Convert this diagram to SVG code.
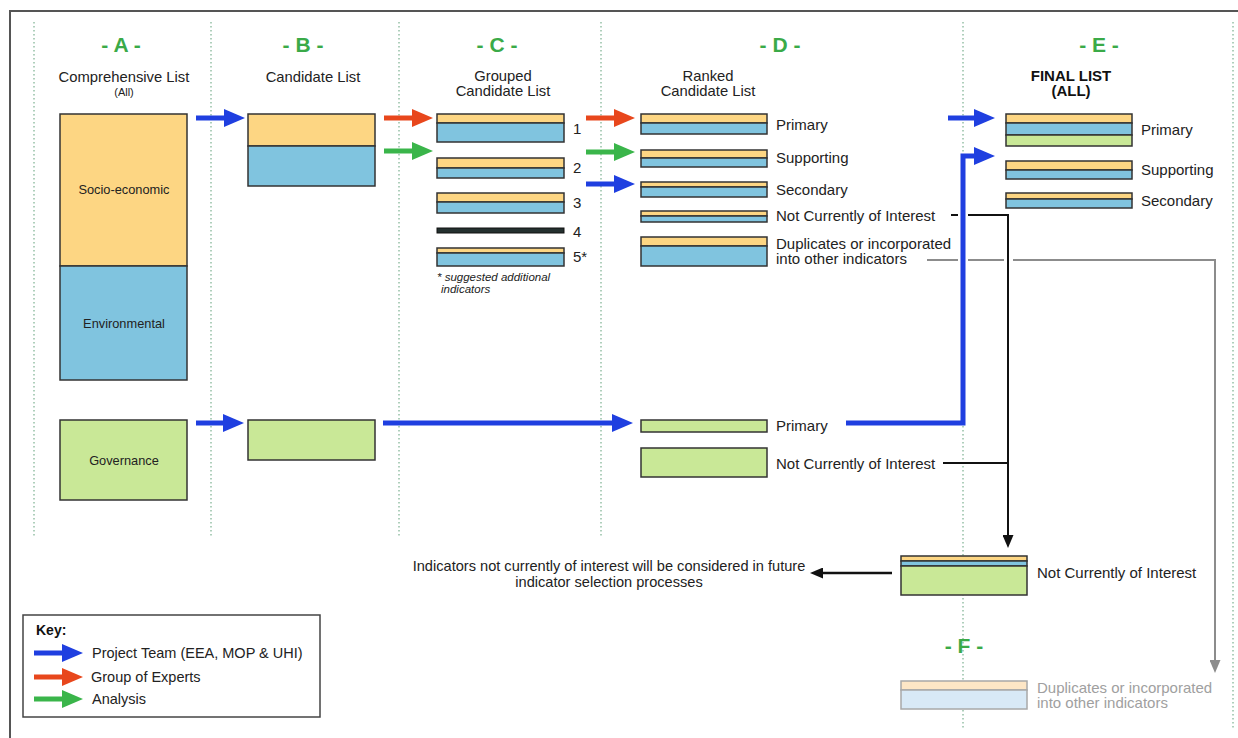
<svg xmlns="http://www.w3.org/2000/svg" width="1238" height="738" viewBox="0 0 1238 738">
<style>
text{font-family:"Liberation Sans",Arial,sans-serif;fill:#222}
.sec{font-size:21px;font-weight:bold;fill:#3aaa48;text-anchor:middle}
.hdr{font-size:14.8px;text-anchor:middle}
.lbl{font-size:15px}
.in{font-size:12.8px;text-anchor:middle}
.y{fill:#fdd683;stroke:#333;stroke-width:1.5}
.b{fill:#80c4df;stroke:#333;stroke-width:1.5}
.g{fill:#c9e897;stroke:#333;stroke-width:1.5}
.fy{fill:#fde6c6;stroke:#a8a8a8;stroke-width:1.5}
.fb{fill:#d8e9f6;stroke:#a8a8a8;stroke-width:1.5}
.dot{stroke:#5f9f78;stroke-width:1;stroke-dasharray:1.5 2.5;fill:none}
.ab{stroke:#1f3fe0;stroke-width:5;fill:none;marker-end:url(#mb)}
.ar{stroke:#e8471c;stroke-width:5;fill:none;marker-end:url(#mr)}
.ag{stroke:#3ab54a;stroke-width:5;fill:none;marker-end:url(#mg)}
.bk{stroke:#111;stroke-width:2;fill:none}
.gr{stroke:#8c8c8c;stroke-width:2;fill:none}
</style>
<defs>
<marker id="mb" markerUnits="userSpaceOnUse" viewBox="0 0 21 18" refX="6" refY="9" markerWidth="21" markerHeight="18" orient="auto"><path d="M0,0 L21,9 L0,18 z" fill="#1f3fe0"/></marker>
<marker id="mr" markerUnits="userSpaceOnUse" viewBox="0 0 21 18" refX="6" refY="9" markerWidth="21" markerHeight="18" orient="auto"><path d="M0,0 L21,9 L0,18 z" fill="#e8471c"/></marker>
<marker id="mg" markerUnits="userSpaceOnUse" viewBox="0 0 21 18" refX="6" refY="9" markerWidth="21" markerHeight="18" orient="auto"><path d="M0,0 L21,9 L0,18 z" fill="#3ab54a"/></marker>
<marker id="mk" markerUnits="userSpaceOnUse" viewBox="0 0 13 11" refX="5" refY="5.5" markerWidth="13" markerHeight="11" orient="auto"><path d="M0,0 L13,5.5 L0,11 z" fill="#111"/></marker>
<marker id="mgr" markerUnits="userSpaceOnUse" viewBox="0 0 13 11" refX="5" refY="5.5" markerWidth="13" markerHeight="11" orient="auto"><path d="M0,0 L13,5.5 L0,11 z" fill="#8c8c8c"/></marker>
</defs>
<rect x="0" y="0" width="1238" height="738" fill="#fff"/>
<rect x="10" y="11" width="1240" height="740" fill="none" stroke="#555" stroke-width="2"/>
<g id="columns">
<line class="dot" x1="34" y1="22" x2="34" y2="537"/>
<line class="dot" x1="211" y1="22" x2="211" y2="537"/>
<line class="dot" x1="399" y1="22" x2="399" y2="537"/>
<line class="dot" x1="601" y1="22" x2="601" y2="537"/>
<line class="dot" x1="963" y1="22" x2="963" y2="728"/>
<line class="dot" x1="1233" y1="22" x2="1233" y2="730"/>
<text class="sec" x="121" y="52">- A -</text>
<text class="sec" x="303" y="52">- B -</text>
<text class="sec" x="497" y="52">- C -</text>
<text class="sec" x="780" y="52">- D -</text>
<text class="sec" x="1099" y="52">- E -</text>
<text class="sec" x="964" y="653">- F -</text>
<text class="hdr" x="124" y="82">Comprehensive List</text>
<text class="hdr" x="124" y="96" style="font-size:11px">(All)</text>
<text class="hdr" x="313" y="82">Candidate List</text>
<text class="hdr" x="503" y="81">Grouped</text>
<text class="hdr" x="503" y="96">Candidate List</text>
<text class="hdr" x="708" y="81">Ranked</text>
<text class="hdr" x="708" y="96">Candidate List</text>
<text class="hdr" x="1071" y="81" style="font-weight:bold;font-size:15px;fill:#111">FINAL LIST</text>
<text class="hdr" x="1071" y="96" style="font-weight:bold;font-size:15px;fill:#111">(ALL)</text>
</g>
<g id="node-a">
<rect class="y" x="60" y="114" width="127" height="152"/>
<rect class="b" x="60" y="266" width="127" height="114"/>
<text class="in" x="124" y="194">Socio-economic</text>
<text class="in" x="124" y="328">Environmental</text>
</g>
<g id="node-a-gov">
<rect class="g" x="60" y="420" width="127" height="80"/>
<text class="in" x="124" y="465">Governance</text>
</g>
<g id="node-b">
<rect class="y" x="248" y="114" width="127" height="32"/>
<rect class="b" x="248" y="146" width="127" height="40"/>
</g>
<g id="node-b-gov">
<rect class="g" x="248" y="420" width="127" height="40"/>
</g>
<g id="node-c1"><rect class="y" x="437" y="114" width="127" height="9"/><rect class="b" x="437" y="123" width="127" height="19"/><text class="lbl" x="573" y="134">1</text></g>
<g id="node-c2"><rect class="y" x="437" y="158" width="127" height="10"/><rect class="b" x="437" y="168" width="127" height="10"/><text class="lbl" x="573" y="173">2</text></g>
<g id="node-c3"><rect class="y" x="437" y="193" width="127" height="9"/><rect class="b" x="437" y="202" width="127" height="11"/><text class="lbl" x="573" y="208">3</text></g>
<g id="node-c4"><rect x="437" y="228" width="127" height="5" fill="#24302f" stroke="#111" stroke-width="1"/><text class="lbl" x="573" y="237">4</text></g>
<g id="node-c5"><rect class="y" x="437" y="248" width="127" height="5"/><rect class="b" x="437" y="253" width="127" height="13"/><text class="lbl" x="573" y="262">5*</text>
<text x="437" y="281" style="font-size:11.5px;font-style:italic">* suggested additional</text>
<text x="441" y="293" style="font-size:11.5px;font-style:italic">indicators</text></g>
<g id="node-d-primary"><rect class="y" x="641" y="114" width="126" height="9"/><rect class="b" x="641" y="123" width="126" height="11"/><text class="lbl" x="776" y="130">Primary</text></g>
<g id="node-d-supporting"><rect class="y" x="641" y="150" width="126" height="8"/><rect class="b" x="641" y="158" width="126" height="9"/><text class="lbl" x="776" y="163">Supporting</text></g>
<g id="node-d-secondary"><rect class="y" x="641" y="182" width="126" height="5"/><rect class="b" x="641" y="187" width="126" height="10"/><text class="lbl" x="776" y="195">Secondary</text></g>
<g id="node-d-notcurrent"><rect class="y" x="641" y="211" width="126" height="5"/><rect class="b" x="641" y="216" width="126" height="6"/><text class="lbl" x="776" y="221">Not Currently of Interest</text></g>
<g id="node-d-duplicates"><rect class="y" x="641" y="237" width="126" height="9"/><rect class="b" x="641" y="246" width="126" height="20"/><text class="lbl" x="776" y="249">Duplicates or incorporated</text><text class="lbl" x="776" y="264">into other indicators</text></g>
<g id="node-d-gov-primary"><rect class="g" x="641" y="420" width="126" height="12"/><text class="lbl" x="776" y="431">Primary</text></g>
<g id="node-d-gov-notcurrent"><rect class="g" x="641" y="448" width="126" height="29"/><text class="lbl" x="776" y="469">Not Currently of Interest</text></g>
<g id="node-e-primary"><rect class="y" x="1006" y="114" width="126" height="9"/><rect class="b" x="1006" y="123" width="126" height="12"/><rect class="g" x="1006" y="135" width="126" height="11"/><text class="lbl" x="1141" y="135">Primary</text></g>
<g id="node-e-supporting"><rect class="y" x="1006" y="161" width="126" height="9"/><rect class="b" x="1006" y="170" width="126" height="9"/><text class="lbl" x="1141" y="175">Supporting</text></g>
<g id="node-e-secondary"><rect class="y" x="1006" y="193" width="126" height="6"/><rect class="b" x="1006" y="199" width="126" height="9"/><text class="lbl" x="1141" y="206">Secondary</text></g>
<g id="node-f-notcurrent"><rect class="y" x="901" y="556" width="126" height="5"/><rect class="b" x="901" y="561" width="126" height="5"/><rect class="g" x="901" y="566" width="126" height="29"/><text class="lbl" x="1037" y="578">Not Currently of Interest</text></g>
<g id="node-f-duplicates"><rect class="fy" x="901" y="681" width="126" height="9"/><rect class="fb" x="901" y="690" width="126" height="19"/><text class="lbl" x="1037" y="693" style="fill:#a0a0a0">Duplicates or incorporated</text><text class="lbl" x="1037" y="708" style="fill:#a0a0a0">into other indicators</text></g>
<g id="note">
<text class="lbl" x="609" y="571" style="text-anchor:middle;font-size:14.6px">Indicators not currently of interest will be considered in future</text>
<text class="lbl" x="609" y="587" style="text-anchor:middle;font-size:14.6px">indicator selection processes</text>
</g>
<g id="connectors">
<path class="ab" d="M196,118 H230"/>
<path class="ab" d="M196,423 H229"/>
<path class="ar" d="M384,118 H418"/>
<path class="ag" d="M384,151 H418"/>
<path class="ar" d="M586,118 H620"/>
<path class="ag" d="M586,152 H620"/>
<path class="ab" d="M586,184 H620"/>
<path class="ab" d="M383,423 H618"/>
<path class="ab" d="M948,118 H980"/>
<path class="ab" d="M846,423 H963 V156 H980" style="stroke-linejoin:miter"/>
<path class="bk" d="M951,215 H958"/>
<path class="bk" d="M968,215 H1008 V540" style="marker-end:url(#mk)"/>
<path class="bk" d="M943,463 H1008"/>
<path class="bk" d="M892,573 H818" style="stroke-width:2.5;marker-end:url(#mk)"/>
<path class="gr" d="M927,260 H958"/>
<path class="gr" d="M968,260 H1004"/>
<path class="gr" d="M1013,260 H1215 V665" style="marker-end:url(#mgr)"/>
</g>
<g id="key">
<rect x="23" y="615" width="297" height="102" fill="#fff" stroke="#444" stroke-width="1.5"/>
<text x="36" y="635" style="font-size:14px;font-weight:bold;fill:#111">Key:</text>
<path class="ab" d="M34,653 H68"/>
<path class="ar" d="M34,677 H68"/>
<path class="ag" d="M34,699 H68"/>
<text class="lbl" x="92" y="658" style="font-size:14.5px">Project Team (EEA, MOP &amp; UHI)</text>
<text class="lbl" x="91" y="682" style="font-size:14.5px">Group of Experts</text>
<text class="lbl" x="92" y="704" style="font-size:14.5px">Analysis</text>
</g>
</svg>
